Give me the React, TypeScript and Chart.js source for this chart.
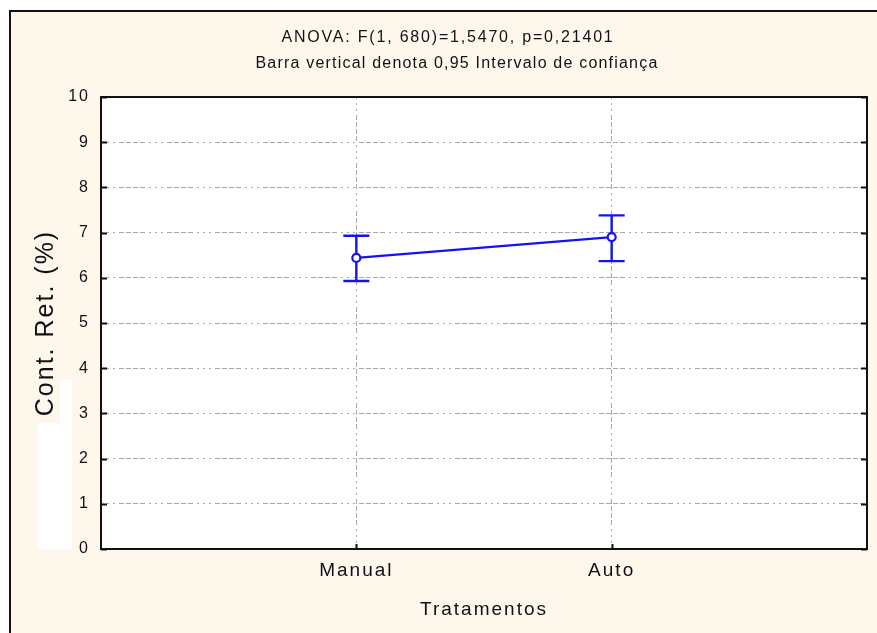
import React, { useEffect, useRef } from 'react';
import { Chart, registerables } from 'chart.js';

Chart.register(...registerables);

// Group means with their 95% confidence limits
const categories = ['Manual', 'Auto'];
const means = [6.44, 6.9];
const ciLower = [5.93, 6.37];
const ciUpper = [6.93, 7.38];
const yTickValues = [0, 1, 2, 3, 4, 5, 6, 7, 8, 9, 10];
const titleLines = [
  'ANOVA: F(1, 680)=1,5470, p=0,21401',
  'Barra vertical denota 0,95 Intervalo de confiança',
];
const yAxisTitle = 'Cont. Ret. (%)';
const xAxisTitle = 'Tratamentos';

const W = 877;
const H = 633;
const BLUE = '#1414ee';
const CREAM = '#fef8ec';
const GRID = '#a8a8a8';
const TEXT = '#101018';
const GRID_DASH = [2, 4, 2, 4, 2, 4, 5, 2, 5, 2, 5, 2, 5, 4];
const FONT = '"Liberation Sans", Arial, sans-serif';

const statPlugin = {
  id: 'statFrame',
  beforeDraw(chart: any) {
    const { ctx, chartArea: a } = chart;
    ctx.save();
    ctx.fillStyle = '#ffffff';
    ctx.fillRect(0, 0, W, H);
    ctx.fillStyle = CREAM;
    ctx.fillRect(10, 11, W - 10, H - 11);
    ctx.strokeStyle = '#111111';
    ctx.lineWidth = 2;
    ctx.beginPath();
    ctx.moveTo(10, H);
    ctx.lineTo(10, 11);
    ctx.lineTo(W, 11);
    ctx.stroke();
    // pale box under the axis caption
    ctx.fillStyle = '#ffffff';
    ctx.fillRect(38, 423, 34, 126);
    ctx.fillRect(60, 380, 12, 43);
    // plot background
    ctx.fillRect(a.left, a.top, a.right - a.left, a.bottom - a.top);
    // header lines
    ctx.fillStyle = TEXT;
    ctx.textAlign = 'center';
    ctx.textBaseline = 'middle';
    ctx.font = `16px ${FONT}`;
    (ctx as any).letterSpacing = '1.8px';
    ctx.fillText(titleLines[0], 448, 38);
    (ctx as any).letterSpacing = '1.2px';
    ctx.fillText(titleLines[1], 457, 64);
    ctx.restore();
    // wide glyph spacing for axis texts
    (ctx as any).letterSpacing = '2px';
  },
  beforeDatasetsDraw(chart: any) {
    const { ctx } = chart;
    const xs = chart.scales.x;
    const ys = chart.scales.y;
    ctx.save();
    ctx.strokeStyle = BLUE;
    ctx.lineWidth = 2.4;
    categories.forEach((_, i) => {
      const x = xs.getPixelForValue(i + 1);
      const yLo = ys.getPixelForValue(ciLower[i]);
      const yHi = ys.getPixelForValue(ciUpper[i]);
      ctx.beginPath();
      ctx.moveTo(x, yLo);
      ctx.lineTo(x, yHi);
      ctx.moveTo(x - 13, yLo);
      ctx.lineTo(x + 13, yLo);
      ctx.moveTo(x - 13, yHi);
      ctx.lineTo(x + 13, yHi);
      ctx.stroke();
    });
    ctx.restore();
  },
  afterDraw(chart: any) {
    const { ctx, chartArea: a } = chart;
    (ctx as any).letterSpacing = '0px';
    const xs = chart.scales.x;
    const ys = chart.scales.y;
    ctx.save();
    ctx.strokeStyle = '#111111';
    ctx.lineWidth = 2;
    ctx.strokeRect(a.left, a.top, a.right - a.left, a.bottom - a.top);
    ctx.beginPath();
    yTickValues.forEach((v) => {
      const y = Math.round(ys.getPixelForValue(v)) + 0.5;
      ctx.moveTo(a.left, y);
      ctx.lineTo(a.left + 6, y);
      ctx.moveTo(a.right, y);
      ctx.lineTo(a.right - 6, y);
    });
    categories.forEach((_, i) => {
      const x = Math.round(xs.getPixelForValue(i + 1)) + 0.5;
      ctx.moveTo(x, a.bottom);
      ctx.lineTo(x, a.bottom - 5);
    });
    ctx.stroke();
    ctx.restore();
  },
};

export default function App() {
  const canvasRef = useRef<HTMLCanvasElement | null>(null);

  useEffect(() => {
    const canvas = canvasRef.current;
    if (!canvas) return;
    const chart = new Chart(canvas, {
      type: 'line',
      data: {
        datasets: [
          {
            data: categories.map((_, i) => ({ x: i + 1, y: means[i] })),
            borderColor: BLUE,
            borderWidth: 2.4,
            tension: 0,
            pointRadius: 4,
            pointBorderWidth: 2.2,
            pointBackgroundColor: '#ffffff',
            pointBorderColor: BLUE,
          },
        ],
      },
      options: {
        responsive: false,
        animation: false,
        events: [],
        layout: { padding: { left: 0, top: 97, right: 10, bottom: 0 } },
        plugins: {
          legend: { display: false },
          tooltip: { enabled: false },
          title: { display: false },
        },
        scales: {
          x: {
            type: 'linear',
            min: 0,
            max: categories.length + 1,
            afterBuildTicks: (s: any) => {
              s.ticks = categories.map((_, i) => ({ value: i + 1 }));
            },
            afterFit: (s: any) => {
              s.height = 84;
            },
            ticks: {
              autoSkip: false,
              maxRotation: 0,
              padding: 10,
              color: TEXT,
              font: { family: FONT, size: 19 },
              callback: (v: any) => categories[Number(v) - 1] ?? '',
            },
            grid: { color: GRID, lineWidth: 1, drawTicks: false },
            border: { display: false, dash: GRID_DASH },
            title: {
              display: true,
              text: xAxisTitle,
              color: TEXT,
              font: { family: FONT, size: 19 },
              padding: { top: 0, bottom: 12 },
            },
          },
          y: {
            type: 'linear',
            min: yTickValues[0],
            max: yTickValues[yTickValues.length - 1],
            afterBuildTicks: (s: any) => {
              s.ticks = yTickValues.map((v) => ({ value: v }));
            },
            afterFit: (s: any) => {
              s.width = 101;
            },
            ticks: {
              padding: 11,
              color: TEXT,
              font: { family: FONT, size: 16 },
            },
            grid: { color: GRID, lineWidth: 1, drawTicks: false },
            border: { display: false, dash: GRID_DASH },
            title: {
              display: true,
              text: yAxisTitle,
              color: TEXT,
              font: { family: FONT, size: 25 },
              padding: { top: 31, bottom: 0 },
            },
          },
        },
      },
      plugins: [statPlugin],
    } as any);
    return () => chart.destroy();
  }, []);

  return (
    <div style={{ position: 'fixed', left: 0, top: 0, width: W, height: H }}>
      <canvas ref={canvasRef} width={W} height={H} style={{ display: 'block' }} />
    </div>
  );
}
